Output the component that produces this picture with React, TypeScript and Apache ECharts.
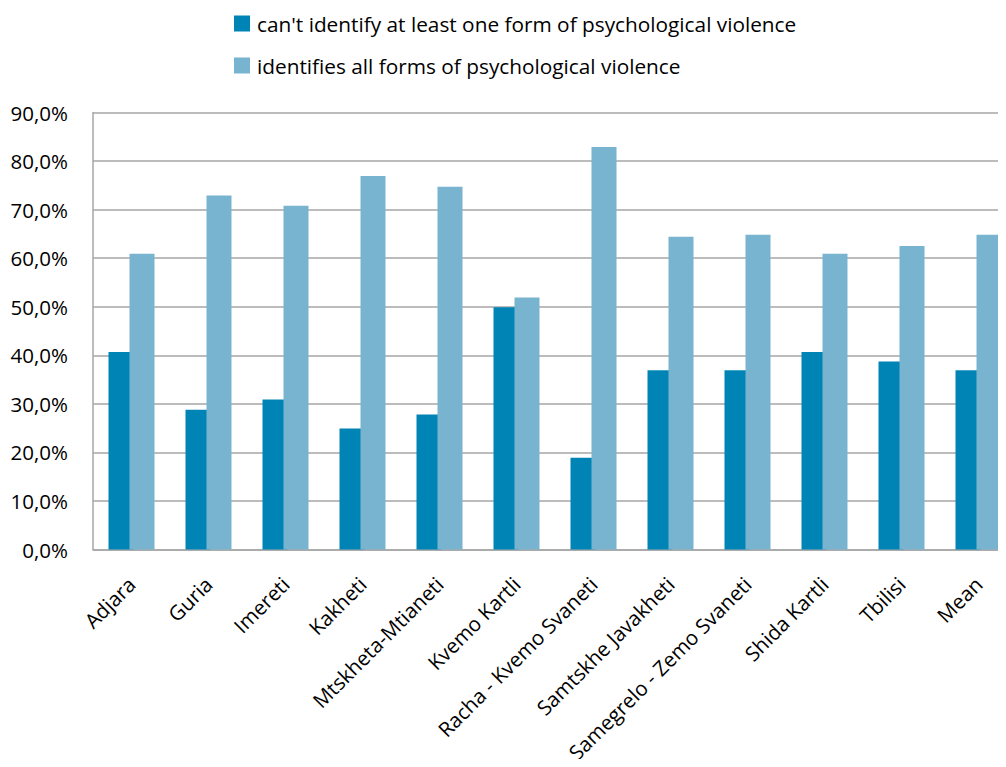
import React, { useEffect, useRef } from "react";
import * as echarts from "echarts";

const categories = [
  "Adjara",
  "Guria",
  "Imereti",
  "Kakheti",
  "Mtskheta-Mtianeti",
  "Kvemo Kartli",
  "Racha - Kvemo Svaneti",
  "Samtskhe Javakheti",
  "Samegrelo - Zemo Svaneti",
  "Shida Kartli",
  "Tbilisi",
  "Mean",
];
const cantIdentify = [40.7, 28.8, 30.9, 24.9, 27.8, 49.9, 18.9, 36.9, 36.9, 40.7, 38.7, 36.9];
const identifiesAll = [60.9, 72.9, 70.8, 76.9, 74.7, 51.9, 82.9, 64.4, 64.8, 60.9, 62.5, 64.8];
const seriesNames = [
  "can't identify at least one form of psychological violence",
  "identifies all forms of psychological violence",
];

const FONT = "'Open Sans', sans-serif";

export default function App() {
  const ref = useRef<HTMLDivElement>(null);
  useEffect(() => {
    if (!ref.current) return;
    const chart = echarts.init(ref.current, null, { renderer: "svg" });
    chart.setOption({
      animation: false,
      backgroundColor: "#ffffff",
      textStyle: { fontFamily: FONT },
      legend: {
        orient: "vertical",
        left: 229,
        top: 8,
        itemWidth: 16,
        itemHeight: 16,
        itemGap: 21,
        icon: "rect",
        textStyle: { fontSize: 20.8, color: "#000", fontFamily: FONT, padding: [0, 0, 0, 2] },
        data: seriesNames,
      },
      grid: {
        left: 93,
        right: 13,
        top: 112.5,
        bottom: 217.5,
        containLabel: false,
        outerBoundsMode: "none",
      },
      xAxis: {
        type: "category",
        data: categories,
        axisLine: { lineStyle: { color: "#A6A6A6", width: 1.5 } },
        axisTick: { show: false },
        axisLabel: {
          rotate: 45,
          interval: 0,
          fontSize: 20.5,
          color: "#000",
          fontFamily: FONT,
          margin: 31,
        },
      },
      yAxis: {
        type: "value",
        min: 0,
        max: 90,
        interval: 10,
        axisLine: { show: true, lineStyle: { color: "#A6A6A6", width: 1.5 } },
        axisTick: { show: false },
        splitLine: { lineStyle: { color: "#A6A6A6", width: 1.5 } },
        axisLabel: {
          fontSize: 20.5,
          color: "#000",
          fontFamily: FONT,
          margin: 25,
          formatter: (v: number) => v.toFixed(1).replace(".", ",") + "%",
        },
      },
      series: [
        {
          name: seriesNames[0],
          type: "bar",
          data: cantIdentify,
          barWidth: 25,
          barGap: "-16%",
          itemStyle: { color: "#0084B5" },
        },
        {
          name: seriesNames[1],
          type: "bar",
          data: identifiesAll,
          barWidth: 25,
          itemStyle: { color: "#78B3D0" },
        },
      ],
    });
    return () => chart.dispose();
  }, []);
  return (
    <div style={{ width: 1006, height: 767, margin: -8, overflow: "hidden" }}>
      <div ref={ref} style={{ width: 1030, height: 767 }} />
    </div>
  );
}
